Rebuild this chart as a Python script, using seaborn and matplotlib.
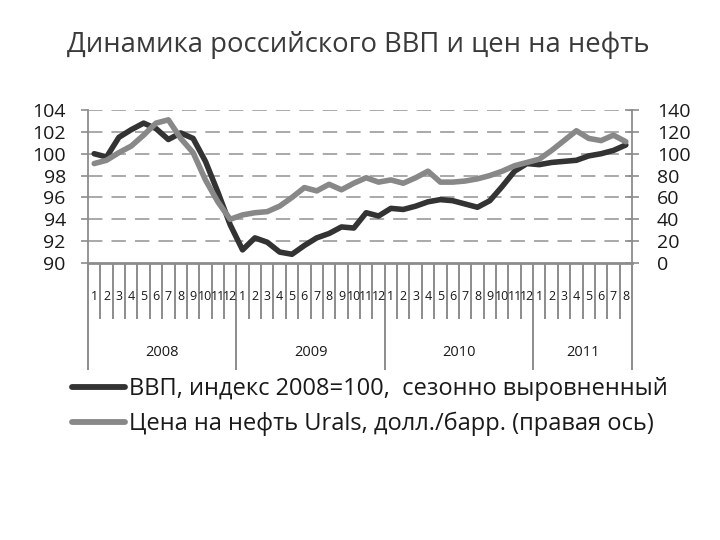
import matplotlib
matplotlib.use("Agg")
import matplotlib.pyplot as plt
import matplotlib.transforms as mtransforms
from matplotlib.lines import Line2D
import seaborn as sns
import pandas as pd
import numpy as np

# ---------------- data ----------------
years = ["2008", "2009", "2010", "2011"]
months_per_year = [12, 12, 12, 8]
month_labels = [str(m) for n in months_per_year for m in range(1, n + 1)]

gdp = [100.0, 99.7, 101.5, 102.2, 102.8, 102.3, 101.3, 101.9, 101.4, 99.3, 96.5, 93.5,
       91.2, 92.3, 91.9, 91.0, 90.8, 91.6, 92.3, 92.7, 93.3, 93.2, 94.6, 94.3,
       95.0, 94.9, 95.2, 95.6, 95.8, 95.7, 95.4, 95.1, 95.7, 97.0, 98.4, 99.1,
       99.0, 99.2, 99.3, 99.4, 99.8, 100.0, 100.3, 100.8]

oil = [91, 94, 101, 107, 117, 128, 131, 114, 101, 76, 56, 40,
       44, 46, 47, 52, 60, 69, 66, 72, 67, 73, 78, 74,
       76, 73, 78, 84, 74, 74, 75, 77, 80, 84, 89, 92,
       95, 103, 112, 121, 114, 112, 117, 111]

title = "Динамика российского ВВП и цен на нефть"
gdp_label = "ВВП, индекс 2008=100,  сезонно выровненный"
oil_label = "Цена на нефть Urals, долл./барр. (правая ось)"

left_ticks = [90, 92, 94, 96, 98, 100, 102, 104]
right_ticks = [0, 20, 40, 60, 80, 100, 120, 140]

# ---------------- style ----------------
sns.set_theme(style="white")
plt.rcParams['font.family'] = ['Open Sans', 'DejaVu Sans']

GDP_C = "#333333"
OIL_C = "#888888"
AX_C = "#8c8c8c"
TXT_C = "#1a1a1a"

df = pd.DataFrame({"idx": np.arange(len(gdp)), "gdp": gdp, "oil": oil})

fig = plt.figure(figsize=(7.2, 5.4), dpi=100)
W, H = 720, 540
ax = fig.add_axes([88 / W, 1 - 263 / H, (632 - 88) / W, (263 - 110) / H])
ax.set_facecolor("white")

# gridlines
for v in left_ticks[1:]:
    ax.axhline(v, color="#a3a3a3", lw=1.3, ls=(0, (8, 5)), zorder=1)

sns.lineplot(data=df, x="idx", y="gdp", ax=ax, color=GDP_C, lw=4.0, zorder=3,
             solid_capstyle="round", solid_joinstyle="round")
ax.set_xlim(-0.5, len(gdp) - 0.5)
ax.set_ylim(90, 104)
ax.set_yticks(left_ticks)
ax.set_xlabel("")
ax.set_ylabel("")

ax2 = ax.twinx()
sns.lineplot(data=df, x="idx", y="oil", ax=ax2, color=OIL_C, lw=4.0, zorder=3,
             solid_capstyle="round", solid_joinstyle="round")
ax2.set_ylim(0, 140)
ax2.set_yticks(right_ticks)
ax2.set_ylabel("")
ax2.grid(False)

for a in (ax, ax2):
    a.spines["top"].set_visible(False)
    for s in ("left", "right", "bottom"):
        a.spines[s].set_color(AX_C)
        a.spines[s].set_linewidth(1.3)
ax.spines["right"].set_visible(False)
ax2.spines["left"].set_visible(False)
ax2.spines["bottom"].set_visible(False)
ax.spines["bottom"].set_linewidth(2.0)

ax.tick_params(axis="y", direction="out", length=5, width=1.2, color=AX_C,
               labelsize=14, labelcolor=TXT_C, pad=11, left=True)
ax2.tick_params(axis="y", direction="inout", length=10, width=1.2, color=AX_C,
                labelsize=14, labelcolor=TXT_C, pad=13, right=True)

# x axis: month boundaries (minor) and year boundaries (major)
n = len(gdp)
bounds = np.arange(n + 1) - 0.5
year_bounds = np.concatenate([[0], np.cumsum(months_per_year)]) - 0.5
ax.set_xticks(year_bounds)
ax.set_xticks(bounds, minor=True)
ax.set_xticklabels([])
ax.tick_params(axis="x", which="major", direction="out", length=77, width=1.4,
               color=AX_C, bottom=True)
ax.tick_params(axis="x", which="minor", direction="out", length=40, width=1.4,
               color=AX_C, bottom=True)
ax2.tick_params(axis="x", which="both", bottom=False, top=False)

trans = mtransforms.blended_transform_factory(ax.transData, ax.transAxes)
for i, lab in enumerate(month_labels):
    ax.text(i, -0.222, lab, transform=trans, ha="center", va="center",
            fontsize=9, color=TXT_C)
for k, y in enumerate(years):
    c = (year_bounds[k] + year_bounds[k + 1]) / 2
    ax.text(c, -0.582, y, transform=trans, ha="center", va="center",
            fontsize=10.5, color=TXT_C)

# title
fig.text(0.497, 1 - 45 / H, title, ha="center", va="center", fontsize=19.8,
         color="#3a3a3a")

# legend
handles = [Line2D([0], [0], color=GDP_C, lw=4.2),
           Line2D([0], [0], color=OIL_C, lw=4.2)]
fig.legend(handles, [gdp_label, oil_label], loc="upper left",
           bbox_to_anchor=(72 / W, 1 - 377 / H), frameon=False, fontsize=17.0,
           handlelength=2.25, handletextpad=0.15, labelspacing=0.45,
           borderpad=0, borderaxespad=0, labelcolor=TXT_C)

fig.savefig("out.png", dpi=100, facecolor="white")
